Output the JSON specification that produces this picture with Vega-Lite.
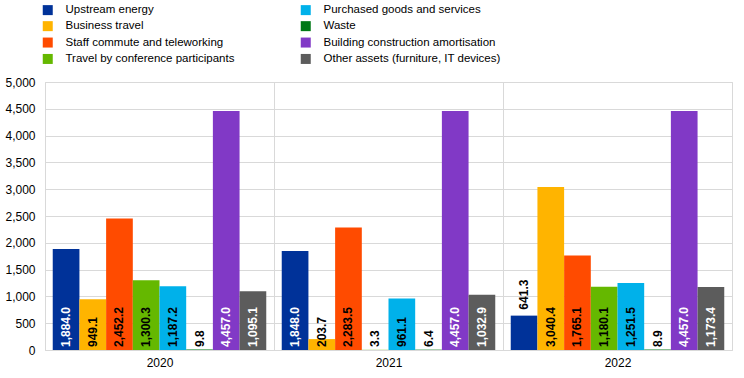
{
  "$schema": "https://vega.github.io/schema/vega-lite/v6.json",
  "width": 687,
  "height": 268,
  "autosize": {"type": "none"},
  "padding": {"left": 45, "top": 82, "right": 12, "bottom": 28},
  "background": "white",
  "config": {
    "font": "Liberation Sans",
    "view": {"stroke": "#d9d9d9", "strokeWidth": 1},
    "legend": {
      "orient": "none",
      "legendX": -3,
      "legendY": -78,
      "columns": 2,
      "columnPadding": 65,
      "rowPadding": 3.4,
      "symbolType": "square",
      "symbolSize": 100,
      "symbolStrokeWidth": 0,
      "labelFont": "Liberation Sans",
      "labelFontSize": 11.5,
      "labelColor": "#000000",
      "labelOffset": 12,
      "labelLimit": 400,
      "padding": 0,
      "title": null
    }
  },
  "data": {
    "values": [
      {"year": "2020", "category": "Upstream energy", "value": 1884.0},
      {"year": "2020", "category": "Business travel", "value": 949.1},
      {"year": "2020", "category": "Staff commute and teleworking", "value": 2452.2},
      {"year": "2020", "category": "Travel by conference participants", "value": 1300.3},
      {"year": "2020", "category": "Purchased goods and services", "value": 1187.2},
      {"year": "2020", "category": "Waste", "value": 9.8},
      {"year": "2020", "category": "Building construction amortisation", "value": 4457.0},
      {"year": "2020", "category": "Other assets (furniture, IT devices)", "value": 1095.1},
      {"year": "2021", "category": "Upstream energy", "value": 1848.0},
      {"year": "2021", "category": "Business travel", "value": 203.7},
      {"year": "2021", "category": "Staff commute and teleworking", "value": 2283.5},
      {"year": "2021", "category": "Travel by conference participants", "value": 3.3},
      {"year": "2021", "category": "Purchased goods and services", "value": 961.1},
      {"year": "2021", "category": "Waste", "value": 6.4},
      {"year": "2021", "category": "Building construction amortisation", "value": 4457.0},
      {"year": "2021", "category": "Other assets (furniture, IT devices)", "value": 1032.9},
      {"year": "2022", "category": "Upstream energy", "value": 641.3},
      {"year": "2022", "category": "Business travel", "value": 3040.4},
      {"year": "2022", "category": "Staff commute and teleworking", "value": 1765.1},
      {"year": "2022", "category": "Travel by conference participants", "value": 1180.1},
      {"year": "2022", "category": "Purchased goods and services", "value": 1251.5},
      {"year": "2022", "category": "Waste", "value": 8.9},
      {"year": "2022", "category": "Building construction amortisation", "value": 4457.0},
      {"year": "2022", "category": "Other assets (furniture, IT devices)", "value": 1173.4}
    ]
  },
  "encoding": {
    "x": {
      "field": "year",
      "type": "ordinal",
      "scale": {"paddingInner": 0, "paddingOuter": 0},
      "axis": {
        "title": null,
        "labelAngle": 0,
        "labelFontSize": 12,
        "labelColor": "#000000",
        "labelPadding": 7,
        "ticks": false,
        "domain": false,
        "grid": true,
        "tickBand": "extent",
        "gridColor": "#d9d9d9"
      }
    },
    "xOffset": {
      "field": "category",
      "type": "nominal",
      "sort": [
        "Upstream energy",
        "Business travel",
        "Staff commute and teleworking",
        "Travel by conference participants",
        "Purchased goods and services",
        "Waste",
        "Building construction amortisation",
        "Other assets (furniture, IT devices)"
      ],
      "scale": {"paddingInner": 0, "paddingOuter": 0.29}
    }
  },
  "layer": [
    {
      "mark": {"type": "bar"},
      "encoding": {
        "y": {
          "field": "value",
          "type": "quantitative",
          "scale": {"domain": [0, 5000], "nice": false},
          "axis": {
            "title": null,
            "values": [0, 500, 1000, 1500, 2000, 2500, 3000, 3500, 4000, 4500, 5000],
            "format": ",.0f",
            "labelFontSize": 12,
            "labelColor": "#000000",
            "labelPadding": 10,
            "ticks": false,
            "domain": false,
            "gridColor": "#d9d9d9"
          }
        },
        "color": {
          "field": "category",
          "type": "nominal",
          "scale": {
            "domain": [
              "Upstream energy",
              "Business travel",
              "Staff commute and teleworking",
              "Travel by conference participants",
              "Purchased goods and services",
              "Waste",
              "Building construction amortisation",
              "Other assets (furniture, IT devices)"
            ],
            "range": ["#003299", "#ffb400", "#ff4b00", "#65b800", "#00b1ea", "#007816", "#8139c6", "#5c5c5c"]
          },
          "legend": {}
        }
      }
    },
    {
      "transform": [{"filter": "!(datum.category == 'Upstream energy' && datum.value < 1000)"}],
      "mark": {"type": "text", "angle": 270, "align": "left", "baseline": "middle", "dx": 3, "fontSize": 12, "fontWeight": "bold", "font": "Liberation Sans"},
      "encoding": {
        "y": {
          "datum": 0,
          "type": "quantitative",
          "axis": {
            "title": null,
            "values": [0, 500, 1000, 1500, 2000, 2500, 3000, 3500, 4000, 4500, 5000],
            "format": ",.0f",
            "labelFontSize": 12,
            "labelColor": "#000000",
            "labelPadding": 10,
            "ticks": false,
            "domain": false,
            "gridColor": "#d9d9d9"
          }
        },
        "text": {"field": "value", "type": "quantitative", "format": ",.1f"},
        "color": {
          "condition": {"test": "indexof(['Upstream energy', 'Building construction amortisation', 'Other assets (furniture, IT devices)'], datum.category) >= 0", "value": "#ffffff"},
          "value": "#000000"
        }
      }
    },
    {
      "transform": [{"filter": "datum.category == 'Upstream energy' && datum.value < 1000"}],
      "mark": {"type": "text", "angle": 270, "align": "left", "baseline": "middle", "dx": 6, "fontSize": 12, "fontWeight": "bold", "font": "Liberation Sans", "color": "#000000"},
      "encoding": {
        "y": {
          "field": "value",
          "type": "quantitative",
          "axis": {
            "title": null,
            "values": [0, 500, 1000, 1500, 2000, 2500, 3000, 3500, 4000, 4500, 5000],
            "format": ",.0f",
            "labelFontSize": 12,
            "labelColor": "#000000",
            "labelPadding": 10,
            "ticks": false,
            "domain": false,
            "gridColor": "#d9d9d9"
          }
        },
        "text": {"field": "value", "type": "quantitative", "format": ",.1f"}
      }
    }
  ]
}
